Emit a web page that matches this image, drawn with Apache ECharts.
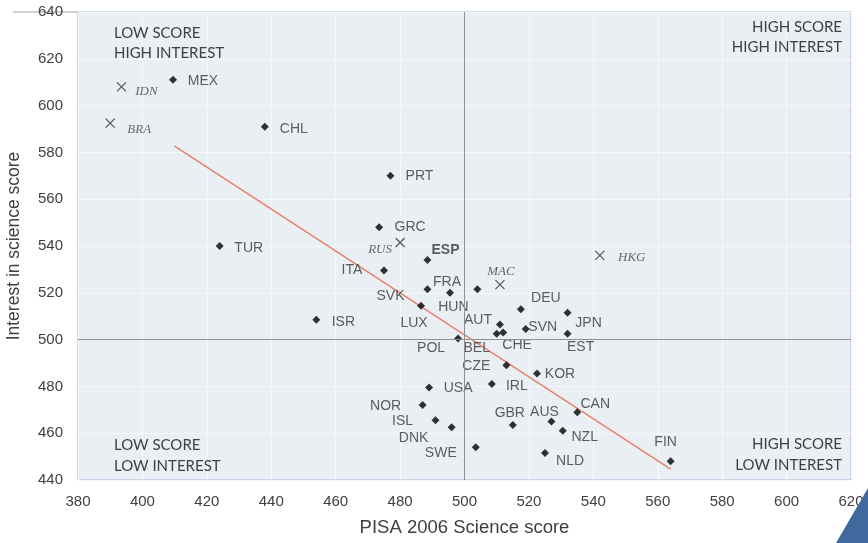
<!DOCTYPE html>
<html>
<head>
<meta charset="utf-8">
<script src="https://cdn.jsdelivr.net/npm/echarts@6/dist/echarts.min.js"></script>
<style>
html,body{margin:0;padding:0;background:#fff;}
#chart{width:868px;height:543px;}
</style>
</head>
<body>
<div id="chart"></div>
<script>
// ---- Data ----
const oecdCountries = ['MEX','CHL','PRT','GRC','ESP','ITA','TUR','SVK','FRA','HUN','LUX','ISR','AUT','CHE','BEL','SVN','DEU','JPN','EST','POL','CZE','KOR','IRL','USA','NOR','ISL','DNK','SWE','GBR','AUS','NZL','NLD','CAN','FIN'];
const oecdScience = [409.5,438,477,473.5,488.5,475,424,488.5,495.5,504,486.5,454,511,512,510,519,517.5,532,532,498,513,522.5,508.5,489,487,491,496,503.5,515,527,530.5,525,535,564];
const oecdInterest = [611,591,570,548,534,529.5,540,521.5,520,521.5,514.5,508.5,506.5,503,502.5,504.5,513,511.5,502.5,500.5,489,485.5,481,479.5,472,465.5,462.5,454,463.5,465,461,451.5,469,448];

const partnerCountries = ['IDN','BRA','RUS','MAC','HKG'];
const partnerScience = [393.5,390,480,511,542];
const partnerInterest = [608,592.5,541.5,523.5,536];

const trendScience = [410,564];
const trendInterest = [582.7,444.6];

const xTicks = {min:380, max:620, step:20};
const yTicks = {min:440, max:640, step:20};
const refScience = 500;
const refInterest = 500;

// ---- Label layout (style only) ----
const labelOffsets = {
  MEX:[30,1], CHL:[29,2], PRT:[29,0], GRC:[31,0], ESP:[18,-10], ITA:[-32,0], TUR:[29,2],
  SVK:[-37,7], FRA:[-3,-11], HUN:[-24,18], LUX:[-7,17], ISR:[27,2], AUT:[-22,-4],
  CHE:[14,13], BEL:[-20,14], SVN:[17,-2], DEU:[25,-11], JPN:[21,10], EST:[13,13],
  POL:[-27,10], CZE:[-30,1], KOR:[23,1], IRL:[25,2], USA:[29,1], NOR:[-37,1],
  ISL:[-33,1], DNK:[-38,11], SWE:[-35,6], GBR:[-3,-12], AUS:[-7,-9], NZL:[22,6],
  NLD:[25,8], CAN:[18,-8], FIN:[-5,-19],
  IDN:[25,5], BRA:[29,6], RUS:[-20,7], MAC:[1,-13], HKG:[32,2]
};

const textColor = '#404040';
const markLabelColor = '#363636';

const oecdData = oecdCountries.map((c,i)=>({
  name:c, value:[oecdScience[i], oecdInterest[i]],
  label:{show:true, formatter:'{b}', position:'inside', offset:labelOffsets[c],
    color:markLabelColor, fontSize:14, fontFamily:'Liberation Sans, Arial, sans-serif',
    fontWeight: c==='ESP' ? 'bold' : 'normal', align:'center', verticalAlign:'middle'}
}));
const partnerData = partnerCountries.map((c,i)=>({
  name:c, value:[partnerScience[i], partnerInterest[i]],
  label:{show:true, formatter:'{b}', position:'inside', offset:labelOffsets[c],
    color:'#444444', fontSize:13, fontStyle:'italic', fontFamily:'Liberation Serif, Times New Roman, serif',
    align:'center', verticalAlign:'middle'}
}));

const chart = echarts.init(document.getElementById('chart'), null, {renderer:'canvas'});

const quadFont = '15px Lato, "Open Sans", sans-serif';
function qText(x, y, txt, align){
  return {type:'text', x:x, y:y, silent:true, z:10,
    style:{text:txt, fill:textColor, font:quadFont, textAlign:align, textVerticalAlign:'middle'}};
}

chart.setOption({
  animation:false,
  backgroundColor:'#ffffff',
  grid:{left:78, right:17, top:12, bottom:63, show:true, backgroundColor:'#e9eff3', borderColor:'#a9b6d6', borderWidth:1, containLabel:false, outerBoundsMode:'none'},
  xAxis:{
    type:'value', min:xTicks.min, max:xTicks.max, interval:xTicks.step,
    name:'PISA 2006 Science score', nameLocation:'middle', nameGap:38,
    nameTextStyle:{color:textColor, fontSize:18.5, fontFamily:'Liberation Sans, Arial, sans-serif'},
    axisLine:{show:false}, axisTick:{show:false},
    axisLabel:{color:textColor, fontSize:15, margin:14, fontFamily:'Liberation Sans, Arial, sans-serif'},
    splitLine:{show:true, lineStyle:{color:'#f5f8fa', width:1}}
  },
  yAxis:{
    type:'value', min:yTicks.min, max:yTicks.max, interval:yTicks.step,
    name:'Interest in science score', nameLocation:'middle', nameGap:55,
    nameTextStyle:{color:textColor, fontSize:17.5, fontFamily:'Liberation Sans, Arial, sans-serif'},
    axisLine:{show:false}, axisTick:{show:false},
    axisLabel:{color:textColor, fontSize:15, margin:15, fontFamily:'Liberation Sans, Arial, sans-serif'},
    splitLine:{show:true, lineStyle:{color:'#f5f8fa', width:1}}
  },
  graphic:[
    {type:'line', shape:{x1:13, y1:12, x2:78, y2:12}, style:{stroke:'#a0a0a0', lineWidth:1}, silent:true},
    {type:'polygon', shape:{points:[[868,488],[836,543],[868,543]]}, style:{fill:'#41699e'}, silent:true, z:20},
    qText(114, 33, 'LOW SCORE', 'left'),
    qText(114, 53, 'HIGH INTEREST', 'left'),
    qText(842, 27, 'HIGH SCORE', 'right'),
    qText(842, 47, 'HIGH INTEREST', 'right'),
    qText(114, 445, 'LOW SCORE', 'left'),
    qText(114, 466, 'LOW INTEREST', 'left'),
    qText(842, 444, 'HIGH SCORE', 'right'),
    qText(842, 465, 'LOW INTEREST', 'right')
  ],
  series:[
    {
      type:'line', data:[], silent:true,
      markLine:{silent:true, symbol:['none','none'], label:{show:false},
        lineStyle:{color:'#8f8f8f', width:1, type:'solid'},
        data:[{xAxis:refScience},{yAxis:refInterest}]}
    },
    {
      type:'line', silent:true, symbol:'none', z:3,
      data: trendScience.map((x,i)=>[x, trendInterest[i]]),
      lineStyle:{color:'#e8806e', width:1.5}
    },
    {
      type:'scatter', z:4, symbol:'diamond', symbolSize:[8,8],
      itemStyle:{color:'#000000'},
      data:oecdData
    },
    {
      type:'scatter', z:4, symbol:'path://M0,0L10,10M10,0L0,10', symbolSize:9,
      itemStyle:{color:'rgba(0,0,0,0)', borderColor:'#2e2e2e', borderWidth:1.2},
      data:partnerData
    }
  ]
});
</script>
</body>
</html>
